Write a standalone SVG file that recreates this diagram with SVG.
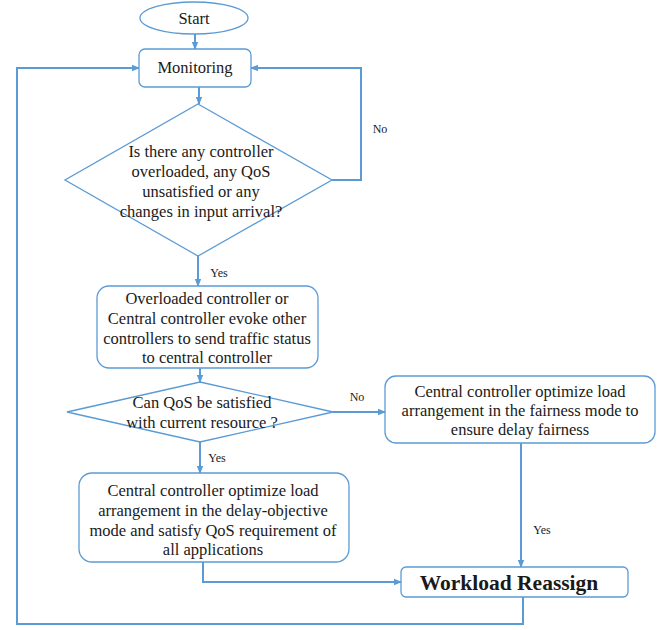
<svg xmlns="http://www.w3.org/2000/svg" width="663" height="630" viewBox="0 0 663 630">
<style>
.shape{fill:#fff;stroke:#5b9bd5;stroke-width:1.3}
.conn{fill:none;stroke:#5b9bd5;stroke-width:2}
text{font-family:"Liberation Serif","Times New Roman",serif;fill:#1a1a1a;text-anchor:middle}
.t{font-size:16.5px}
.lbl{font-size:12px}
.big{font-size:21.5px;font-weight:bold}
</style>
<defs>
<marker id="arr" markerUnits="userSpaceOnUse" markerWidth="8" markerHeight="8" viewBox="0 0 8 8" refX="7" refY="4" orient="auto">
<path d="M0,0.8 L8,4 L0,7.2 Z" fill="#5b9bd5"/>
</marker>
</defs>
<rect width="663" height="630" fill="#fff"/>
<g id="connectors">
<path class="conn" d="M195,34 V49" marker-end="url(#arr)"/>
<path class="conn" d="M199,87 V104" marker-end="url(#arr)"/>
<path class="conn" d="M332,180 H361 V68 H251" marker-end="url(#arr)"/>
<path class="conn" d="M198,256 V286" marker-end="url(#arr)"/>
<path class="conn" d="M200,368 V382" marker-end="url(#arr)"/>
<path class="conn" d="M333,412 H385" marker-end="url(#arr)"/>
<path class="conn" d="M200,442 V473" marker-end="url(#arr)"/>
<path class="conn" d="M521,443 V567" marker-end="url(#arr)"/>
<path class="conn" d="M203,562 V582 H401" marker-end="url(#arr)"/>
<path class="conn" d="M523,597 V624 H17 V68 H139" marker-end="url(#arr)"/>
<text class="lbl" x="380" y="133">No</text>
<text class="lbl" x="219" y="277">Yes</text>
<text class="lbl" x="357" y="401">No</text>
<text class="lbl" x="217" y="462">Yes</text>
<text class="lbl" x="542" y="534">Yes</text>
</g>
<g id="start">
<ellipse class="shape" cx="194" cy="18" rx="54" ry="16"/>
<text class="t" x="194" y="24">Start</text>
</g>
<g id="monitoring">
<rect class="shape" x="139" y="49" width="112" height="38" rx="6"/>
<text class="t" x="195" y="73">Monitoring</text>
</g>
<g id="decision1">
<polygon class="shape" points="198,104 332,180 198,256 65,180"/>
<text class="t" x="201" y="157">Is there any controller</text>
<text class="t" x="201" y="177">overloaded, any QoS</text>
<text class="t" x="201" y="197">unsatisfied or any</text>
<text class="t" x="201" y="217">changes in input arrival?</text>
</g>
<g id="evoke">
<rect class="shape" x="97" y="286" width="221" height="82" rx="12"/>
<text class="t" x="207" y="304">Overloaded controller or</text>
<text class="t" x="207" y="324">Central controller evoke other</text>
<text class="t" x="207" y="344">controllers to send traffic status</text>
<text class="t" x="207" y="363">to central controller</text>
</g>
<g id="decision2">
<polygon class="shape" points="200,382 333,412 200,442 67,412"/>
<text class="t" x="202" y="408">Can QoS be satisfied</text>
<text class="t" x="202" y="428">with current resource ?</text>
</g>
<g id="fairness">
<rect class="shape" x="385" y="376" width="270" height="67" rx="11"/>
<text class="t" x="520" y="397">Central controller optimize load</text>
<text class="t" x="520" y="416">arrangement in the fairness mode to</text>
<text class="t" x="520" y="435">ensure delay fairness</text>
</g>
<g id="delay">
<rect class="shape" x="79" y="473" width="270" height="89" rx="13"/>
<text class="t" x="213" y="496">Central controller optimize load</text>
<text class="t" x="213" y="516">arrangement in the delay-objective</text>
<text class="t" x="213" y="536">mode and satisfy QoS requirement of</text>
<text class="t" x="213" y="555">all applications</text>
</g>
<g id="workload">
<rect class="shape" x="401" y="567" width="227" height="30" rx="5"/>
<text class="big" x="509" y="590">Workload Reassign</text>
</g>
</svg>
